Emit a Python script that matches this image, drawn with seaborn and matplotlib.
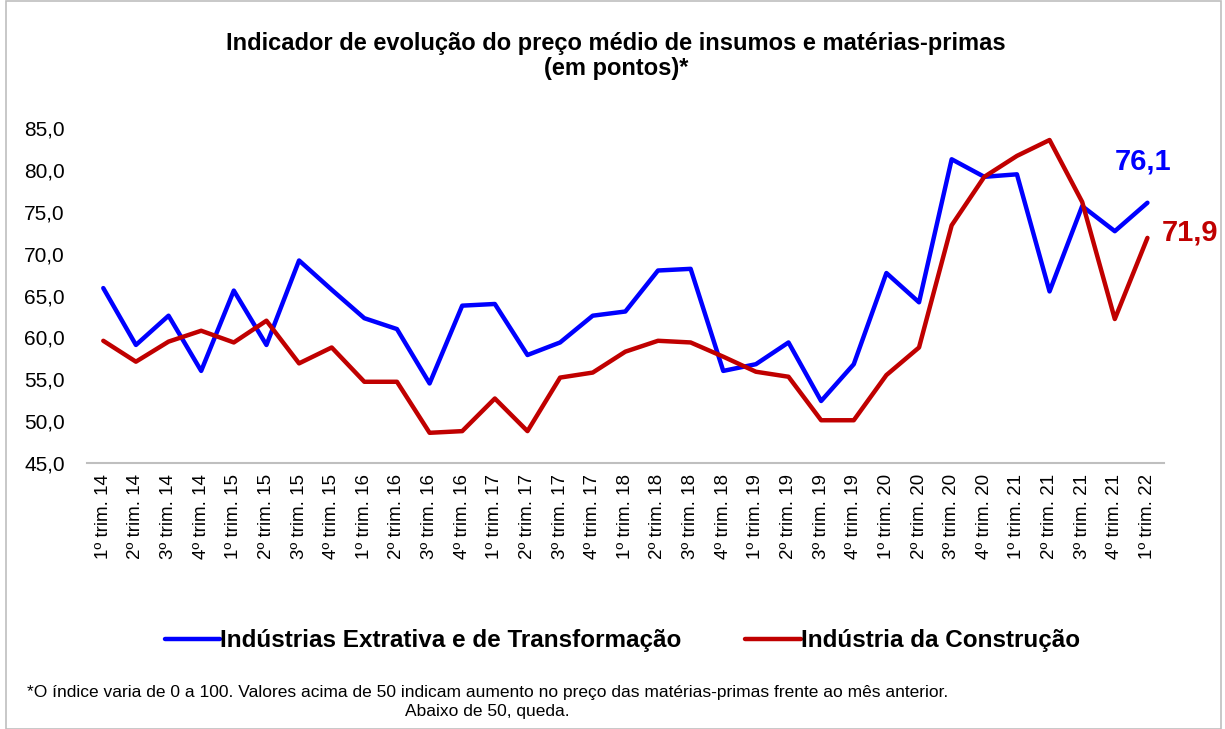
import numpy as np
import pandas as pd
import matplotlib.pyplot as plt
import seaborn as sns
from matplotlib.patches import Rectangle

# quarters 1º trim. 14 .. 1º trim. 22
trimestres = [f"{q}º trim. {a}" for a in range(14, 23) for q in range(1, 5)][:33]

extrativa = [65.9, 59.1, 62.6, 56.0, 65.6, 59.1, 69.2, 65.7, 62.3, 61.0,
             54.5, 63.8, 64.0, 57.9, 59.4, 62.6, 63.1, 68.0, 68.2, 56.0,
             56.8, 59.4, 52.4, 56.8, 67.7, 64.2, 81.3, 79.2, 79.5, 65.5,
             75.7, 72.7, 76.1]
construcao = [59.6, 57.1, 59.5, 60.8, 59.4, 62.0, 56.9, 58.8, 54.7, 54.7,
              48.6, 48.8, 52.7, 48.8, 55.2, 55.8, 58.3, 59.6, 59.4, 57.7,
              55.9, 55.3, 50.1, 50.1, 55.5, 58.8, 73.4, 79.2, 81.7, 83.6,
              76.2, 62.2, 71.9]

serie_ext = "Indústrias Extrativa e de Transformação"
serie_con = "Indústria da Construção"
cores = {serie_ext: "#0000FF", serie_con: "#C00000"}

df = pd.DataFrame({
    "trim": trimestres * 2,
    "valor": extrativa + construcao,
    "serie": [serie_ext] * len(trimestres) + [serie_con] * len(trimestres),
})

sns.set_style("white")
plt.rcParams['font.family'] = ['Liberation Sans', 'DejaVu Sans']
plt.rcParams['text.color'] = 'black'
plt.rcParams['xtick.color'] = 'black'
plt.rcParams['ytick.color'] = 'black'

fig = plt.figure(figsize=(12.25, 7.29), dpi=100)
ax = fig.add_axes([0.071, 0.365, 0.879, 0.459])

sns.lineplot(data=df, x="trim", y="valor", hue="serie", palette=cores,
             linewidth=3.2, sort=False, ax=ax, legend=True)

ax.set_xlim(-0.5, len(trimestres) - 0.5)
ax.set_ylim(45, 85)
ax.set_yticks(np.arange(45, 86, 5))
ax.set_yticklabels([f"{v:.1f}".replace(".", ",") for v in np.arange(45, 86, 5)], fontsize=15)
ax.set_xticks(range(len(trimestres)))
ax.set_xticklabels(trimestres, rotation=90, fontsize=13.5)
ax.set_xticks(np.arange(-0.5, len(trimestres)), minor=True)
ax.tick_params(axis="x", which="major", length=0, pad=8)
ax.tick_params(axis="x", which="minor", length=6, color="#BFBFBF", width=1.2)
ax.tick_params(axis="y", length=0, pad=16)
ax.set_xlabel("")
ax.set_ylabel("")
for s in ["top", "right", "left"]:
    ax.spines[s].set_visible(False)
ax.spines["bottom"].set_color("#BFBFBF")
ax.spines["bottom"].set_linewidth(1.5)

# value labels on last point
ax.annotate(f"{extrativa[-1]:.1f}".replace(".", ","), (len(trimestres) - 1, extrativa[-1]),
            xytext=(-3, 30), textcoords="offset points", ha="center", va="center",
            fontsize=21, fontweight="bold", color="#0000FF")
ax.annotate(f"{construcao[-1]:.1f}".replace(".", ","), (len(trimestres) - 1, construcao[-1]),
            xytext=(10, 4), textcoords="offset points", ha="left", va="center",
            fontsize=21, fontweight="bold", color="#C00000")

handles, labels = ax.get_legend_handles_labels()
ax.get_legend().remove()
leg = fig.legend(handles, labels, loc="center", bbox_to_anchor=(0.508, 0.121), ncol=2,
                 frameon=False, handlelength=2.3, handletextpad=0.0, columnspacing=2.6,
                 prop={"size": 17.5, "weight": "bold"})
for line in leg.get_lines():
    line.set_linewidth(3.2)

fig.text(0.503, 0.923, "Indicador de evolução do preço médio de insumos e matérias-primas\n(em pontos)*",
         ha="center", va="center", fontsize=17, fontweight="bold", linespacing=1.08)

fig.text(0.398, 0.037, "*O índice varia de 0 a 100. Valores acima de 50 indicam aumento no preço das matérias-primas frente ao mês anterior.\nAbaixo de 50, queda.",
         ha="center", va="center", fontsize=12.5, linespacing=1.3)

fig.patches.append(Rectangle((0.005, 0.0), 0.992, 0.998, transform=fig.transFigure,
                             fill=False, edgecolor="#BFBFBF", linewidth=1.2))

fig.savefig("out.png", dpi=100)
